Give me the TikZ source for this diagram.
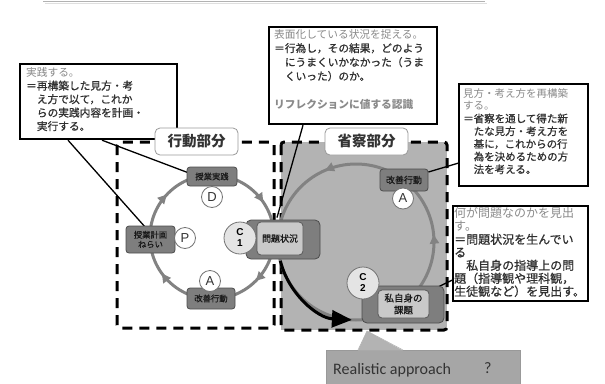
\documentclass[tikz,border=0pt]{standalone}
\usepackage{fontspec}
\newfontfamily\jp{Noto Sans CJK JP}
\newfontfamily\jpb[FakeBold=0.8]{Noto Sans CJK JP}
\newfontfamily\carl{Carlito}
\newfontfamily\lsans{Liberation Sans}
\usetikzlibrary{arrows.meta,decorations.markings,calc}
\definecolor{cyc}{HTML}{828282}
\definecolor{dfill}{HTML}{7E7E7E}
\definecolor{lfill}{HTML}{C9C9C9}
\definecolor{cfill}{HTML}{E4E4E4}
\definecolor{rfill}{HTML}{B3B3B3}
\definecolor{txtd}{HTML}{303030}
\definecolor{txtl}{HTML}{8A8A8A}
\definecolor{rafill}{HTML}{A6A6A6}
\pgfdeclarelayer{back}
\pgfdeclarelayer{mid}
\pgfsetlayers{back,mid,main}
\begin{document}
\begin{tikzpicture}[x=1pt,y=-1pt,
  cbox/.style={draw=black, line width=2.2pt, fill=white, inner sep=0pt, anchor=north west},
  ctext/.style={font=\jpb\fontsize{10.7}{13.5}\selectfont, align=left, inner sep=0pt, anchor=north west, text=txtd},
  partbox/.style={draw=black, line width=3pt, dash pattern=on 10pt off 7pt, rounded corners=3pt},
  plab/.style={draw=black!40, fill=white, rounded corners=5pt, line width=0.8pt, font=\jp\bfseries\fontsize{14.5}{15}\selectfont, text=black!80, minimum width=83, minimum height=27, inner sep=0pt},
  dnode/.style={draw=black!70, fill=dfill, rounded corners=3pt, line width=0.8pt, font=\jpb\fontsize{8.3}{9.5}\selectfont, align=center, inner sep=0pt, text=black!90},
  lnode/.style={draw=black!65, fill=lfill, rounded corners=4pt, line width=0.8pt, font=\jpb\fontsize{9}{11}\selectfont, align=center, inner sep=0pt, text=black!90},
  letc/.style={circle, draw=black!55, fill=white, line width=0.8pt, font=\lsans\fontsize{13}{13}\selectfont, text=black!80, minimum size=21, inner sep=0pt},
  cc/.style={circle, draw=black!55, fill=cfill, line width=0.8pt, font=\lsans\bfseries\fontsize{10}{11}\selectfont, align=center, minimum size=32, inner sep=0pt},
  cycline/.style={draw=cyc, line width=3pt},
  conn/.style={draw=black, line width=1.3pt}
]
\useasboundingbox (0,0) rectangle (605,383);

% ---------- nodes ----------
% left cycle
\node[dnode, minimum width=50, minimum height=19] (pract) at (212,176.5) {授業実践};
\node[dnode, minimum width=49, minimum height=27] (plan) at (150.5,239.5) {授業計画\\ねらい};
\node[dnode, minimum width=48, minimum height=21] (kaiL) at (211,298.5) {改善行動};
\node[letc] (D) at (212,197) {D};
\node[letc] (P) at (185,238) {P};
\node[letc] (AL) at (210,281) {A};

% C1 composite
\node[draw=black!70, fill=dfill, rounded corners=5pt, line width=0.8pt, minimum width=74, minimum height=39, inner sep=0pt] (c1bg) at (283,239.5) {};
\node[lnode, minimum width=46, minimum height=33] (c1) at (280,238.5) {問題状況};
\node[cc] (c1c) at (240,238) {C\\1};

% right cycle
\node[dnode, minimum width=48, minimum height=22, font=\jpb\fontsize{9}{10}\selectfont] (kaiR) at (404,180) {改善行動};
\node[letc] (AR) at (403,198.5) {A};

% C2 composite
\node[draw=black!70, fill=dfill, rounded corners=5pt, line width=0.8pt, minimum width=82, minimum height=37, inner sep=0pt] (c2bg) at (403,304.5) {};
\node[lnode, minimum width=51, minimum height=28, font=\jpb\fontsize{9.5}{12}\selectfont] (c2) at (403.5,304) {私自身の\\課題};
\node[cc] (c2c) at (363,283) {C\\2};

% callout boxes
\node[cbox, minimum width=157, minimum height=75] (lbox) at (19,63) {};
\node[ctext] (lboxt) at (26,67) {\textcolor{txtl}{\jp 実践する。}\\
＝再構築した見方・考\\
\hphantom{＝}え方で以て，これか\\
\hphantom{＝}らの実践内容を計画・\\
\hphantom{＝}実行する。};

\node[cbox, minimum width=168, minimum height=97] (tbox) at (268,26) {};
\node[ctext, font=\jpb\fontsize{10.7}{14}\selectfont] (tboxt) at (274,29) {\textcolor{txtl}{\jp 表面化している状況を捉える。}\\
＝行為し，その結果，どのよう\\
\hphantom{＝}にうまくいかなかった（うま\\
\hphantom{＝}くいった）のか。\\
\mbox{}\\
\textcolor{txtl}{\jp\bfseries リフレクションに値する認識}};

\node[cbox, minimum width=129, minimum height=102] (rubox) at (458,83) {};
\node[ctext, font=\jpb\fontsize{10.5}{12.7}\selectfont] (ruboxt) at (463,88) {\textcolor{txtl}{\jp 見方・考え方を再構築}\\
\textcolor{txtl}{\jp する。}\\
＝省察を通して得た新\\
\hphantom{＝}たな見方・考え方を\\
\hphantom{＝}基に，これからの行\\
\hphantom{＝}為を決めるための方\\
\hphantom{＝}法を考える。};

\node[cbox, minimum width=135, minimum height=95] (rlbox) at (452,205) {};
\node[ctext, font=\jpb\fontsize{12}{13}\selectfont] (rlboxt) at (454,207.5) {\textcolor{txtl}{\jp 何が問題なのかを見出}\\
\textcolor{txtl}{\jp す。}\\
＝問題状況を生んでい\\
る\\
\hphantom{＝}私自身の指導上の問\\
題（指導観や理科観，\\
生徒観など）を見出す。};

% part labels
\node[plab] (lab1) at (196.5,141.5) {行動部分};
\node[plab] (lab2) at (366.5,141.5) {省察部分};

% bottom callout
\node[fill=rafill, draw=black!40, line width=0.6pt, minimum width=194, minimum height=36, inner sep=0pt, anchor=north west] (ra) at (326,350) {};
\node[font=\carl\fontsize{16}{18}\selectfont, text=black!80, anchor=west, inner sep=0pt] (ratext) at (333,370) {Realistic approach};
\node[font=\carl\fontsize{16}{18}\selectfont, text=black!80, anchor=west, inner sep=0pt] (raq) at (484,368) {?};
\coordinate (rapex) at (367,331);
\fill[rafill!85!white] ($(ra.north west)+(32,0.6)$) -- (rapex) -- ($(ra.north west)+(77,0.6)$) -- cycle;
\draw[black!30, line width=0.6pt] ($(ra.north west)+(32,0)$) -- (rapex) -- ($(ra.north west)+(77,0)$);

% ---------- background: part areas ----------
\begin{pgfonlayer}{back}
  \draw[gray!60, line width=1.6pt] (43,1.5) -- (485,1.5);
  \draw[gray!25, line width=1pt] (45,3.5) -- (487,3.5);
  \fill[rfill] (281,142) rectangle (447,330);
  \draw[partbox] (281,142) rectangle (447,330);
  \draw[partbox] (117,142) rectangle (274,328);
\end{pgfonlayer}

% ---------- cycles and connectors ----------
\begin{pgfonlayer}{mid}
  \coordinate (lc) at (212,237);
  \coordinate (rc) at (356,242);
  \draw[cycline, postaction={decorate}, decoration={markings,
      mark=at position 0.125 with {\arrow[cyc]{Triangle[length=9pt,width=9pt]}},
      mark=at position 0.40 with {\arrow[cyc]{Triangle[length=9pt,width=9pt]}},
      mark=at position 0.62 with {\arrow[cyc]{Triangle[length=9pt,width=9pt]}},
      mark=at position 0.905 with {\arrow[cyc]{Triangle[length=9pt,width=9pt]}}}]
    (lc) ++(0:62) arc[start angle=0, end angle=360, radius=62];
  \draw[cycline, postaction={decorate}, decoration={markings,
      mark=at position 0.515 with {\arrow[cyc]{Triangle[length=9pt,width=9pt]}},
      mark=at position 0.815 with {\arrow[cyc]{Triangle[length=9pt,width=9pt]}}}]
    (rc) ++(180:78) arc[start angle=180, end angle=-180, radius=78];
  \draw[black, line width=3pt, -{Triangle[length=20pt,width=17pt]}]
    (rc) ++(166:78) arc[start angle=166, end angle=93, radius=78];

  \coordinate (lb1) at ($(lbox.south west)+(49,0)$);
  \coordinate (lb2) at ($(lbox.south west)+(83,0)$);
  \coordinate (tb1) at ($(tbox.south west)+(35,0)$);
  \coordinate (rb1) at ($(rubox.south west)+(0,-24)$);
  \coordinate (rl1) at ($(rlbox.south west)+(0,-22)$);
  \draw[conn] (lb1) -- ($(plan.north)+(-4,3)$);
  \draw[conn] (lb2) -- ($(pract.west)+(1,-4)$);
  \draw[conn] (tb1) -- ($(c1.north)+(-3,-4)$);
  \draw[conn] (rb1) -- ($(kaiR.north east)!0.15!(kaiR.south east)$);
  \draw[conn] (rl1) -- ($(c2.north east)+(-1,2)$);
\end{pgfonlayer}
\end{tikzpicture}
\end{document}
